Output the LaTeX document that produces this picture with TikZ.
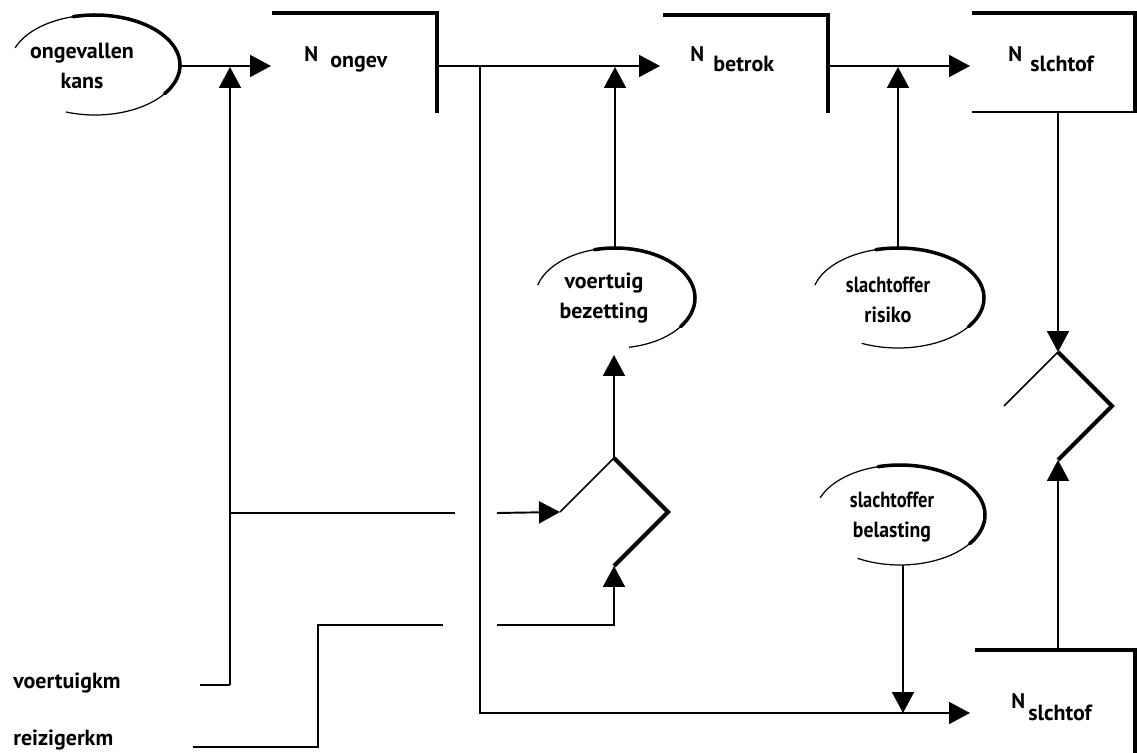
\documentclass[tikz,border=0pt]{standalone}
\usepackage{fontspec}
\setmainfont{PT Sans}
\usetikzlibrary{arrows.meta}
% #1 centre, #2 rx, #3 ry, #4 visual end angle (bottom), #5 visual start angle (upper left)
\newcommand{\cloudarc}[5]{%
  \draw[thinarc,shift={(#1)}] plot[domain=#4:#5,samples=90,smooth] ({#2*cos(\x)},{-#3*sin(\x)});
  \draw[thickarc,shift={(#1)}] plot[domain=-35:105,samples=60,smooth] ({#2*cos(\x)},{-#3*sin(\x)});}
\newcommand{\narrow}[2]{\scalebox{#1}[1]{#2}}
\begin{document}
\begin{tikzpicture}[x=0.02cm,y=-0.02cm,
  conn/.style={line width=1.1pt},
  arr/.style={conn,-{Triangle[length=0.42cm,width=0.44cm]}},
  heavy/.style={line width=2.6pt},
  dthin/.style={line width=0.9pt},
  dthick/.style={line width=2.3pt,line join=miter},
  thinarc/.style={line width=0.7pt},
  thickarc/.style={line width=2pt,line cap=round},
  txt/.style={font=\bfseries\fontsize{12.5}{17}\selectfont, align=center, inner sep=0pt},
  nlab/.style={font=\bfseries\fontsize{12.5}{15}\selectfont, anchor=base west, inner sep=0pt},
  Nsym/.style={font=\bfseries\fontsize{12}{13}\selectfont, anchor=base west, inner sep=0pt},
]
\useasboundingbox (0,0) rectangle (1137,753);

% ---------- ellipses (auxiliary quantities)
\coordinate (e1c) at (95,65);
\coordinate (e2c) at (615,298);
\coordinate (e3c) at (898,298);
\coordinate (e4c) at (900,515);
\cloudarc{e1c}{85}{50}{-110}{160}
\cloudarc{e2c}{80}{50}{-80}{165}
\cloudarc{e3c}{86}{50}{-115}{165}
\cloudarc{e4c}{85}{50}{-120}{160}
\node[txt] (e1) at (82,66) {ongevallen\\kans};
\node[txt] (e2) at (604,298) {voertuig\\bezetting};
\node[txt] (e3) at (888,300) {\narrow{0.84}{slachtoffer}\\\narrow{0.92}{risiko}};
\node[txt] (e4) at (892,517) {\narrow{0.84}{slachtoffer}\\\narrow{0.9}{belasting}};

% ---------- stocks (boxes)
\draw[heavy] (272,13) -- (437,13) -- (437,113);
\draw[heavy] (663,15) -- (828,15) -- (828,113);
\draw[heavy] (972,13) -- (1135,13) -- (1135,112);
\draw[line width=1.4pt] (972,112) -- (1137,112);
\draw[heavy] (975,650) -- (1135,650) -- (1135,753);
\node[Nsym] (n1) at (304,62) {N};
\node[nlab] (b1) at (330,68) {ongev};
\node[Nsym] (n2) at (690,62) {N};
\node[nlab] (b2) at (713,72) {betrok};
\node[Nsym] (n3) at (1008,62) {N};
\node[nlab] (b3) at (1030,72) {slchtof};
\node[Nsym] (n4) at (1011,708) {N};
\node[nlab] (b4) at (1028,720) {slchtof};

% ---------- inputs
\node[txt, anchor=base west] (vkm) at (13,688) {voertuigkm};
\node[txt, anchor=base west] (rkm) at (13,745) {reizigerkm};

% ---------- diamonds (multipliers)
\coordinate (d1t) at (614,458); \coordinate (d1l) at (560,512);
\coordinate (d1r) at (668,512); \coordinate (d1b) at (614,566);
\draw[dthin] (d1l) -- (d1t);
\draw[dthick] (d1t) -- (d1r) -- (d1b);
\coordinate (d2t) at (1058,352); \coordinate (d2l) at (1004,406);
\coordinate (d2r) at (1112,406); \coordinate (d2b) at (1058,460);
\draw[dthin] (d2l) -- (d2t);
\draw[dthick] (d2t) -- (d2r) -- (d2b);

% ---------- junction coordinates
\coordinate (e1r) at (180,66);
\coordinate (b1in) at (271,66);
\coordinate (b1out) at (437,66);
\coordinate (b2in) at (660,66);
\coordinate (b2out) at (828,66);
\coordinate (b3in) at (970,66);
\coordinate (b3bot) at (1058,112);
\coordinate (b4top) at (1058,650);
\coordinate (b4in) at (970,713);
\coordinate (vstart) at (200,685);
\coordinate (vcorner) at (230,685);
\coordinate (vtop) at (230,67);
\coordinate (vbr) at (230,513);
\coordinate (vbrend) at (455,513);
\coordinate (vbr2) at (497,513);
\coordinate (rstart) at (193,747);
\coordinate (rc1) at (318,747);
\coordinate (rc2) at (318,625);
\coordinate (rend) at (443,625);
\coordinate (r2) at (497,625);
\coordinate (r2c) at (614,625);
\coordinate (s1) at (480,66);
\coordinate (s2) at (480,713);
\coordinate (e2top) at (615,248);
\coordinate (e2in) at (615,67);
\coordinate (e2bot) at (614,355);
\coordinate (e3top) at (898,248);
\coordinate (e3in) at (898,67);
\coordinate (e4bot) at (903,565);
\coordinate (e4in) at (903,713);

% ---------- connectors
\draw[arr] (e1r) -- (b1in);
\draw[conn] (vstart) -- (vcorner);
\draw[arr] (vcorner) -- (vtop);
\draw[conn] (vbr) -- (vbrend);
\draw[arr] (vbr2) -- (d1l);
\draw[conn] (rstart) -- (rc1) -- (rc2) -- (rend);
\draw[arr] (r2) -- (r2c) -- (d1b);
\draw[arr] (b1out) -- (b2in);
\draw[arr] (s1) -- (s2) -- (b4in);
\draw[arr] (e2top) -- (e2in);
\draw[arr] (d1t) -- (e2bot);
\draw[arr] (b2out) -- (b3in);
\draw[arr] (e3top) -- (e3in);
\draw[arr] (b3bot) -- (d2t);
\draw[arr] (b4top) -- (d2b);
\draw[arr] (e4bot) -- (e4in);
\end{tikzpicture}
\end{document}
